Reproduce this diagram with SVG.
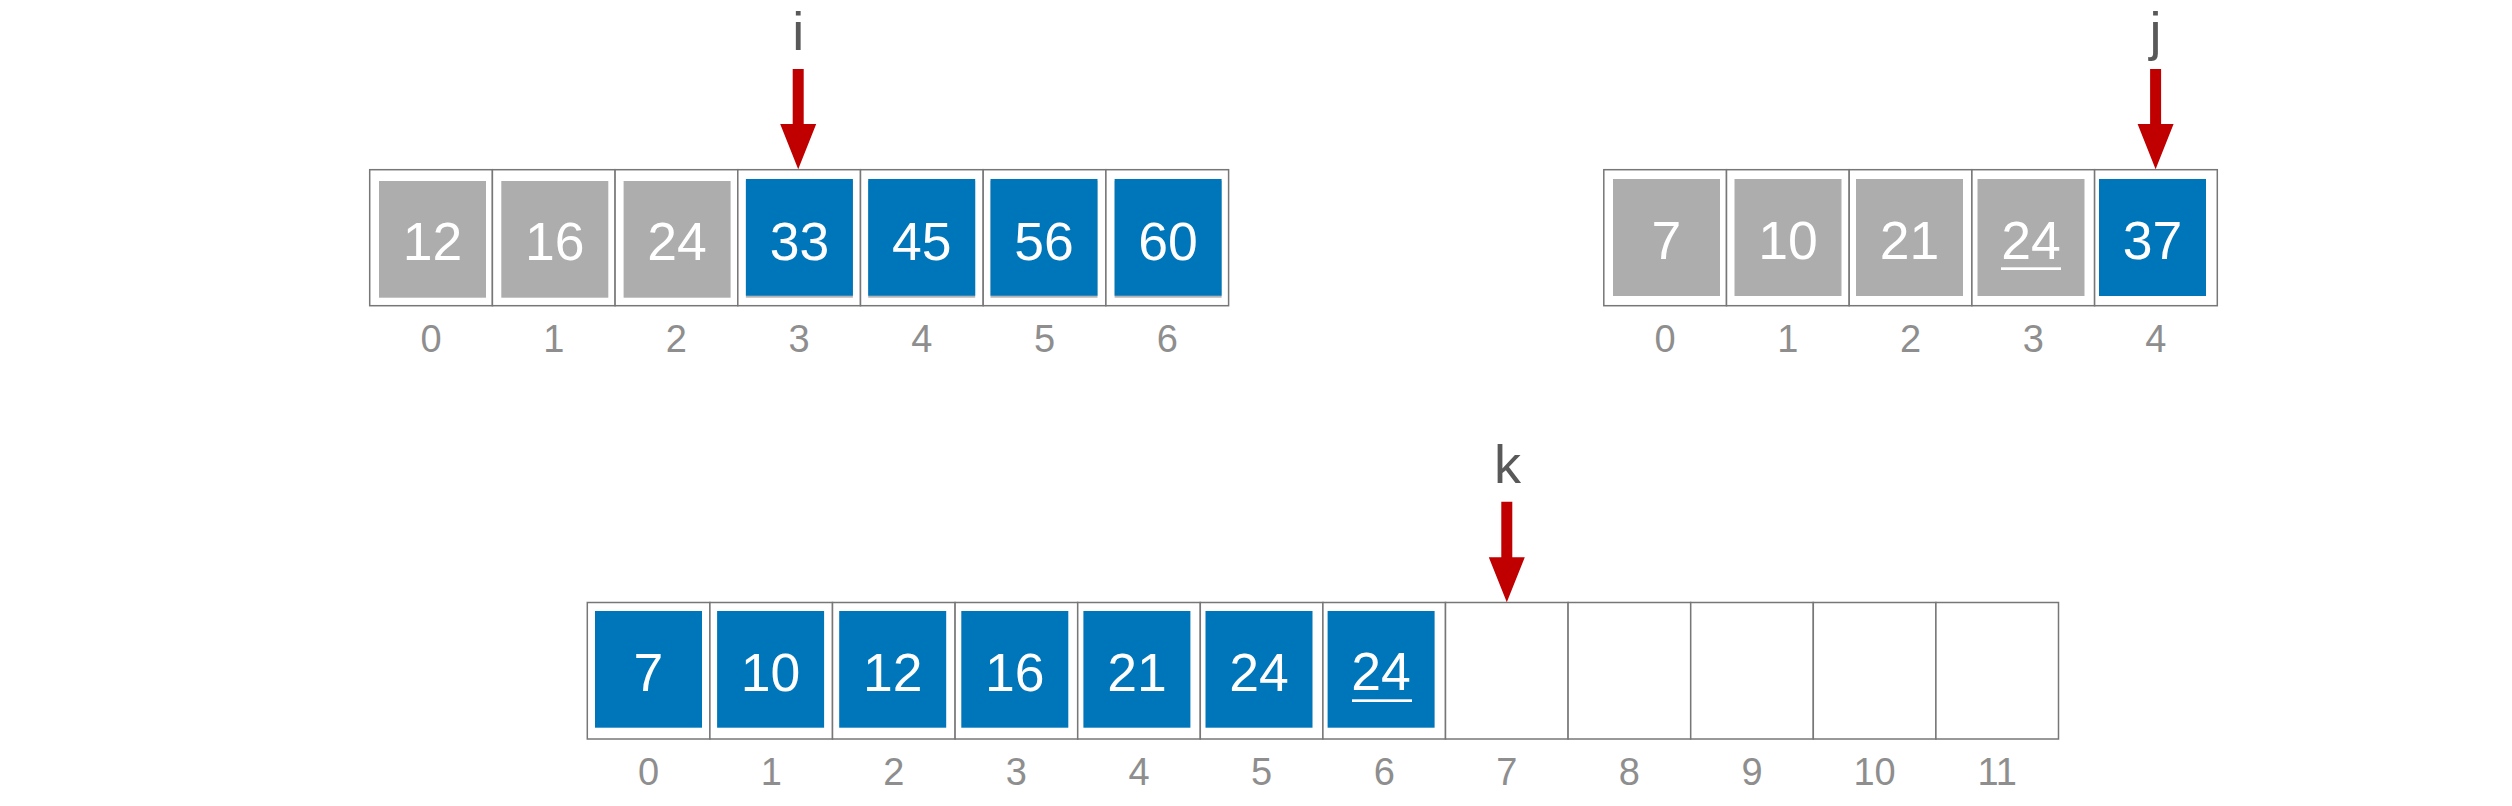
<svg xmlns="http://www.w3.org/2000/svg" width="2512" height="806" viewBox="0 0 2512 806">
<defs>
<style>
.cell{fill:#ffffff;stroke:#777777;stroke-width:1.5}
.gray{fill:#adadad}
.blue{fill:#0076ba}
.shadow{fill:#b4b4b4}
.val{font-family:"Liberation Sans",Arial,sans-serif;font-size:53.5px;fill:#ffffff;text-anchor:middle}
.idx{font-family:"Liberation Sans",Arial,sans-serif;font-size:38px;fill:#8e8e8e;text-anchor:middle}
.ptr{font-family:"Liberation Sans",Arial,sans-serif;font-size:54px;fill:#595959;text-anchor:middle}
.ul{fill:#ffffff}
.arrow{fill:#c00000}
</style>
</defs>
<rect width="2512" height="806" fill="#ffffff"/>

<!-- Top-left array A -->
<g id="arrayA">
<g id="A0"><rect class="cell" x="369.7" y="169.7" width="122.7" height="136"/><rect class="gray" x="379" y="181" width="107" height="116.7"/><text class="val" x="432.5" y="260">12</text><text class="idx" x="431" y="352">0</text></g>
<g id="A1"><rect class="cell" x="492.4" y="169.7" width="122.7" height="136"/><rect class="gray" x="501.3" y="181" width="107" height="116.7"/><text class="val" x="554.8" y="260">16</text><text class="idx" x="553.7" y="352">1</text></g>
<g id="A2"><rect class="cell" x="615.1" y="169.7" width="122.7" height="136"/><rect class="gray" x="623.6" y="181" width="107" height="116.7"/><text class="val" x="677.1" y="260">24</text><text class="idx" x="676.4" y="352">2</text></g>
<g id="A3"><rect class="cell" x="737.8" y="169.7" width="122.7" height="136"/><rect class="shadow" x="745.9" y="181" width="107" height="116.7"/><rect class="blue" x="745.9" y="179" width="107" height="116.7"/><text class="val" x="799.4" y="259.5">33</text><text class="idx" x="799.1" y="352">3</text></g>
<g id="A4"><rect class="cell" x="860.5" y="169.7" width="122.7" height="136"/><rect class="shadow" x="868.2" y="181" width="107" height="116.7"/><rect class="blue" x="868.2" y="179" width="107" height="116.7"/><text class="val" x="921.7" y="259.5">45</text><text class="idx" x="921.8" y="352">4</text></g>
<g id="A5"><rect class="cell" x="983.2" y="169.7" width="122.7" height="136"/><rect class="shadow" x="990.5" y="181" width="107" height="116.7"/><rect class="blue" x="990.5" y="179" width="107" height="116.7"/><text class="val" x="1044" y="259.5">56</text><text class="idx" x="1044.5" y="352">5</text></g>
<g id="A6"><rect class="cell" x="1105.9" y="169.7" width="122.7" height="136"/><rect class="shadow" x="1114.6" y="181" width="107" height="116.7"/><rect class="blue" x="1114.6" y="179" width="107" height="116.7"/><text class="val" x="1168.1" y="259.5">60</text><text class="idx" x="1167.2" y="352">6</text></g>
</g>

<!-- Top-right array B -->
<g id="arrayB">
<g id="B0"><rect class="cell" x="1603.8" y="169.7" width="122.7" height="136"/><rect class="gray" x="1613" y="179" width="107" height="117"/><text class="val" x="1666.5" y="259">7</text><text class="idx" x="1665.1" y="352">0</text></g>
<g id="B1"><rect class="cell" x="1726.5" y="169.7" width="122.7" height="136"/><rect class="gray" x="1734.5" y="179" width="107" height="117"/><text class="val" x="1788" y="259">10</text><text class="idx" x="1787.8" y="352">1</text></g>
<g id="B2"><rect class="cell" x="1849.2" y="169.7" width="122.7" height="136"/><rect class="gray" x="1856" y="179" width="107" height="117"/><text class="val" x="1909.5" y="259">21</text><text class="idx" x="1910.5" y="352">2</text></g>
<g id="B3"><rect class="cell" x="1971.9" y="169.7" width="122.7" height="136"/><rect class="gray" x="1977.5" y="179" width="107" height="117"/><text class="val" x="2031" y="258.5">24</text><rect class="ul" x="2001" y="267.3" width="60" height="2.7"/><text class="idx" x="2033.2" y="352">3</text></g>
<g id="B4"><rect class="cell" x="2094.6" y="169.7" width="122.7" height="136"/><rect class="blue" x="2099" y="179" width="107" height="117"/><text class="val" x="2152.5" y="259">37</text><text class="idx" x="2155.9" y="352">4</text></g>
</g>

<!-- Bottom array C -->
<g id="arrayC">
<g id="C0"><rect class="cell" x="587.3" y="602.5" width="122.6" height="136.5"/><rect class="blue" x="595" y="611" width="107" height="116.7"/><text class="val" x="648.5" y="691">7</text><text class="idx" x="648.6" y="785">0</text></g>
<g id="C1"><rect class="cell" x="709.9" y="602.5" width="122.6" height="136.5"/><rect class="blue" x="717.1" y="611" width="107" height="116.7"/><text class="val" x="770.6" y="691">10</text><text class="idx" x="771.2" y="785">1</text></g>
<g id="C2"><rect class="cell" x="832.5" y="602.5" width="122.6" height="136.5"/><rect class="blue" x="839.2" y="611" width="107" height="116.7"/><text class="val" x="892.7" y="691">12</text><text class="idx" x="893.8" y="785">2</text></g>
<g id="C3"><rect class="cell" x="955.1" y="602.5" width="122.6" height="136.5"/><rect class="blue" x="961.3" y="611" width="107" height="116.7"/><text class="val" x="1014.8" y="691">16</text><text class="idx" x="1016.4" y="785">3</text></g>
<g id="C4"><rect class="cell" x="1077.7" y="602.5" width="122.6" height="136.5"/><rect class="blue" x="1083.4" y="611" width="107" height="116.7"/><text class="val" x="1136.9" y="691">21</text><text class="idx" x="1139" y="785">4</text></g>
<g id="C5"><rect class="cell" x="1200.3" y="602.5" width="122.6" height="136.5"/><rect class="blue" x="1205.5" y="611" width="107" height="116.7"/><text class="val" x="1259" y="691">24</text><text class="idx" x="1261.6" y="785">5</text></g>
<g id="C6"><rect class="cell" x="1322.9" y="602.5" width="122.6" height="136.5"/><rect class="blue" x="1327.6" y="611" width="107" height="116.7"/><text class="val" x="1381.1" y="690">24</text><rect class="ul" x="1352" y="699.3" width="60" height="2.7"/><text class="idx" x="1384.2" y="785">6</text></g>
<g id="C7"><rect class="cell" x="1445.5" y="602.5" width="122.6" height="136.5"/><text class="idx" x="1506.8" y="785">7</text></g>
<g id="C8"><rect class="cell" x="1568.1" y="602.5" width="122.6" height="136.5"/><text class="idx" x="1629.4" y="785">8</text></g>
<g id="C9"><rect class="cell" x="1690.7" y="602.5" width="122.6" height="136.5"/><text class="idx" x="1752" y="785">9</text></g>
<g id="C10"><rect class="cell" x="1813.3" y="602.5" width="122.6" height="136.5"/><text class="idx" x="1874.6" y="785">10</text></g>
<g id="C11"><rect class="cell" x="1935.9" y="602.5" width="122.6" height="136.5"/><text class="idx" x="1997.2" y="785">11</text></g>
</g>

<!-- Pointer labels -->
<g id="label-i"><text class="ptr" x="798.2" y="50">i</text></g>
<g id="label-j"><text class="ptr" x="2155.6" y="50">j</text></g>
<g id="label-k"><text class="ptr" x="1507.5" y="483.3">k</text></g>

<!-- Connectors (pointer arrows) -->
<g id="connectors">
<path class="arrow" d="M792.7,69 H803.7 V124 H816.2 L798.2,169.3 L780.2,124 H792.7 Z"/>
<path class="arrow" d="M2150.1,69 H2161.1 V124 H2173.6 L2155.6,169.3 L2137.6,124 H2150.1 Z"/>
<path class="arrow" d="M1501.3,501.7 H1512.3 V557.3 H1524.8 L1506.8,602.3 L1488.8,557.3 H1501.3 Z"/>
</g>
</svg>
